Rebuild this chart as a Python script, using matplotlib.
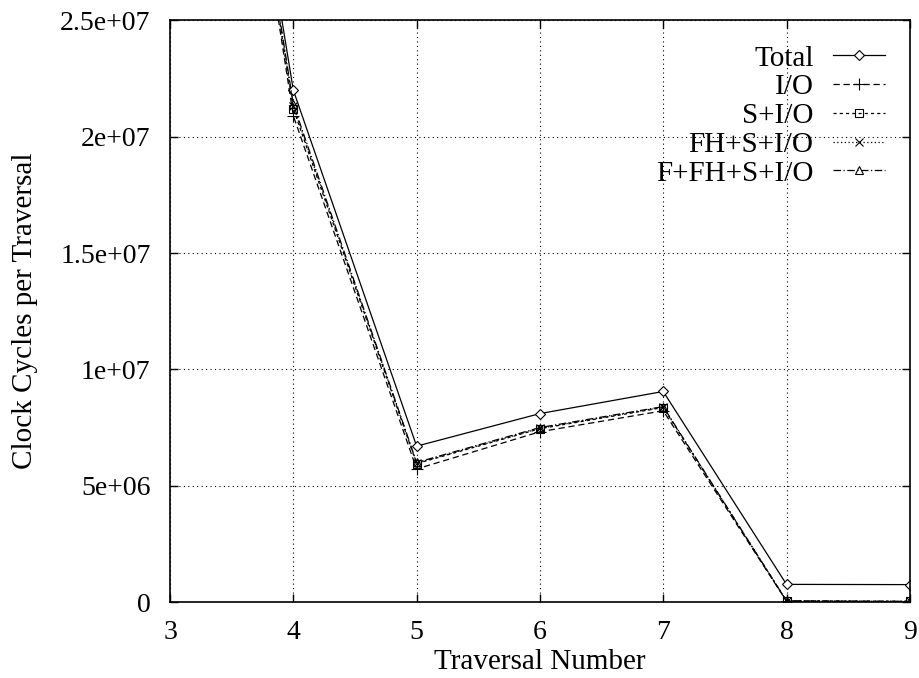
import matplotlib
matplotlib.use("Agg")
import matplotlib.pyplot as plt
from matplotlib.legend_handler import HandlerLine2D

traversal = [3, 4, 5, 6, 7, 8, 9]

total = [5.45e7, 2.20e7, 6.70e6, 8.10e6, 9.05e6, 7.6e5, 7.5e5]
io = [5.50e7, 2.09e7, 5.72e6, 7.32e6, 8.22e6, 4.0e4, 2.0e4]
s_io = [5.50e7, 2.12e7, 5.95e6, 7.45e6, 8.36e6, 5.0e4, 3.0e4]
fh_s_io = [5.50e7, 2.13e7, 5.97e6, 7.47e6, 8.38e6, 5.0e4, 3.0e4]
f_fh_s_io = [5.50e7, 2.14e7, 6.00e6, 7.50e6, 8.40e6, 5.0e4, 3.0e4]

labels = ["Total", "I/O", "S+I/O", "FH+S+I/O", "F+FH+S+I/O"]


# gnuplot puts the key marker about a third along the sample line
class KeyHandler(HandlerLine2D):
    def get_xdata(self, legend, xdescent, ydescent, width, height, fontsize):
        xdata = [-xdescent, -xdescent + width]
        xdata_marker = [-xdescent + width * 0.33]
        return xdata, xdata_marker


plt.rcParams['font.family'] = ['Liberation Serif', 'DejaVu Serif']
plt.rcParams['font.size'] = 21

fig = plt.figure(figsize=(9.19, 6.78), dpi=100)
ax = fig.add_axes([0.185, 0.112, 0.805, 0.858])

lw = 0.9
ms = 6
ax.plot(traversal, total, color='black', lw=lw, ls='-', marker='D', ms=ms - 1,
        mfc='white', mec='black', mew=0.8, label=labels[0])
ax.plot(traversal, io, color='black', lw=lw, ls=(0, (5, 3)), marker='+', ms=ms + 2,
        mew=0.8, label=labels[1])
ax.plot(traversal, s_io, color='black', lw=lw, ls=(0, (2.5, 2.5)), marker='s', ms=ms,
        mfc='none', mec='black', mew=0.8, label=labels[2])
ax.plot(traversal, fh_s_io, color='black', lw=lw, ls=(0, (1, 2)), marker='x', ms=ms,
        mew=0.8, label=labels[3])
ax.plot(traversal, f_fh_s_io, color='black', lw=lw, ls=(0, (6, 2, 1, 2)), marker='^',
        ms=ms, mfc='none', mec='black', mew=0.8, label=labels[4])

ax.set_xlim(3, 9)
ax.set_ylim(0, 2.5e7)
ax.set_xticks(traversal)
ax.set_yticks([0, 5e6, 1e7, 1.5e7, 2e7, 2.5e7])
ax.set_yticklabels(["0", "5e+06", "1e+07", "1.5e+07", "2e+07", "2.5e+07"])
ax.tick_params(direction='in', length=6, width=1, top=True, right=True, labelsize=20)
ax.tick_params(axis='x', pad=13)
ax.tick_params(axis='y', pad=14)
ax.grid(True, color='black', ls=(0, (1, 3)), lw=0.8)
for s in ax.spines.values():
    s.set_linewidth(1.2)

ax.set_xlabel("Traversal Number", labelpad=3)
ax.set_ylabel("Clock Cycles per Traversal", labelpad=16)

ax.legend(loc='upper right', frameon=False, markerfirst=False, handlelength=1.8,
          labelspacing=0.08, borderaxespad=0.45, handletextpad=0.65,
          handler_map={type(ax.lines[0]): KeyHandler()})

fig.savefig("out.png", dpi=100)
